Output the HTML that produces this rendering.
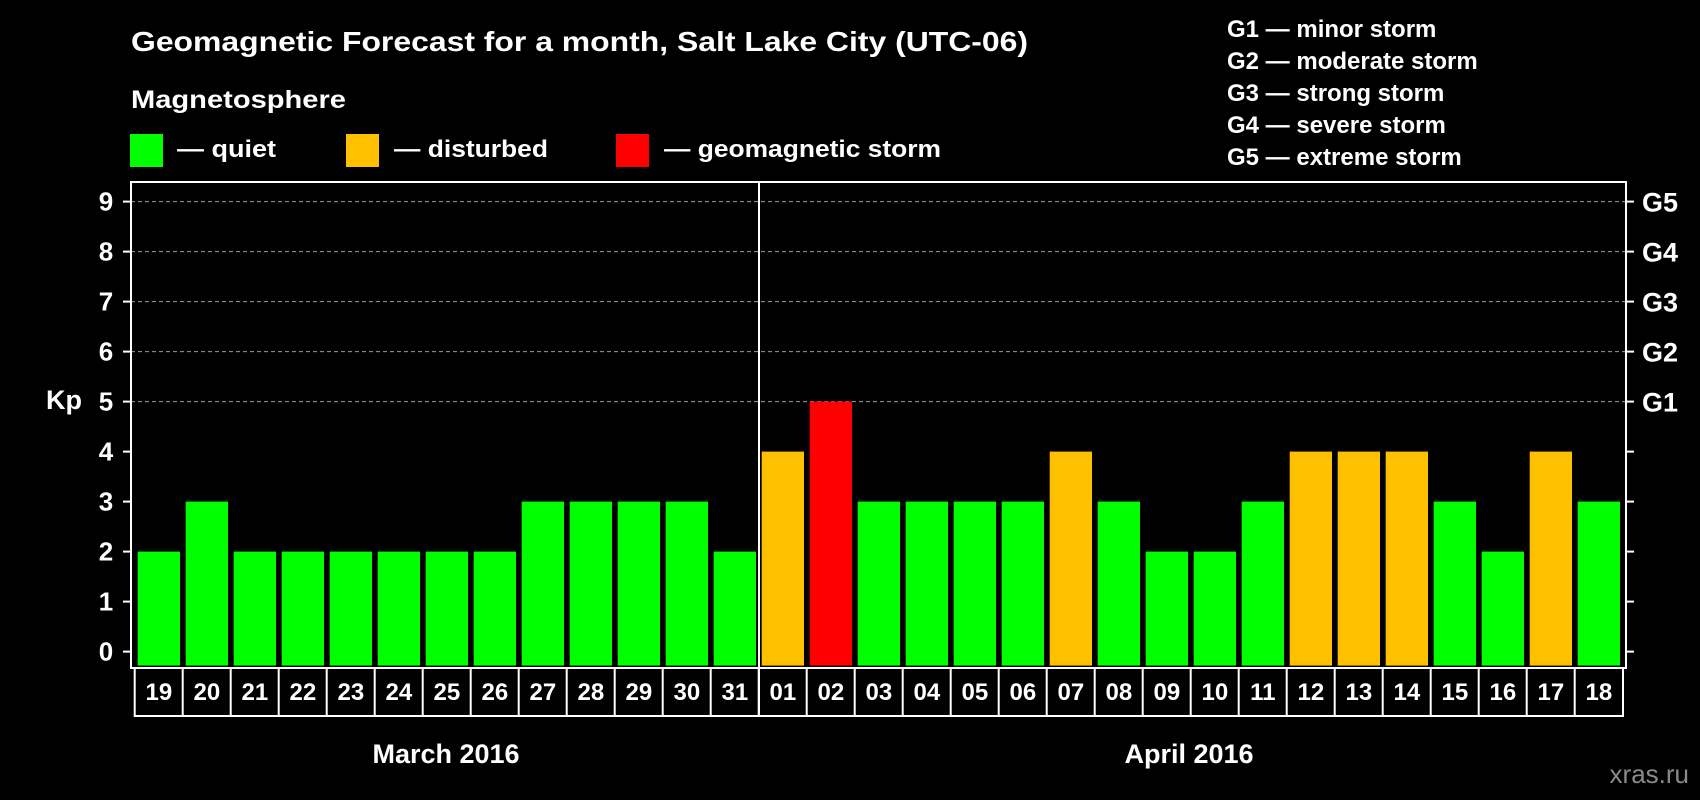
<!DOCTYPE html>
<html><head><meta charset="utf-8"><style>
html,body{margin:0;padding:0;background:#000;}
svg{display:block;font-family:"Liberation Sans",sans-serif;font-weight:bold;}
</style></head><body>
<svg id="chart" width="1700" height="800" viewBox="0 0 1700 800">
<rect width="1700" height="800" fill="#000"/>
<text x="131" y="51" font-size="28" fill="#fff" textLength="897" lengthAdjust="spacingAndGlyphs">Geomagnetic Forecast for a month, Salt Lake City (UTC-06)</text>
<text x="131" y="108" font-size="25" fill="#fff" textLength="215" lengthAdjust="spacingAndGlyphs">Magnetosphere</text>
<g>
<rect x="130" y="134" width="33" height="33" fill="#00ff00"/>
<text x="177" y="157" font-size="24" fill="#fff" textLength="99" lengthAdjust="spacingAndGlyphs">— quiet</text></g>
<g>
<rect x="346" y="134" width="33" height="33" fill="#ffc000"/>
<text x="394" y="157" font-size="24" fill="#fff" textLength="154" lengthAdjust="spacingAndGlyphs">— disturbed</text></g>
<g>
<rect x="616" y="134" width="33" height="33" fill="#ff0000"/>
<text x="664" y="157" font-size="24" fill="#fff" textLength="277" lengthAdjust="spacingAndGlyphs">— geomagnetic storm</text></g>
<g font-size="24" fill="#fff">
<text x="1227" y="37">G1 — minor storm</text>
<text x="1227" y="69">G2 — moderate storm</text>
<text x="1227" y="101">G3 — strong storm</text>
<text x="1227" y="133">G4 — severe storm</text>
<text x="1227" y="165">G5 — extreme storm</text>
</g>
<text x="64" y="409" font-size="27" fill="#fff" text-anchor="middle">Kp</text>
<g id="grid"></g><g id="bars"></g><g id="axes"></g><g id="xlabels"></g>
<text x="446" y="763" font-size="27" fill="#fff" text-anchor="middle">March 2016</text>
<text x="1189" y="763" font-size="27" fill="#fff" text-anchor="middle">April 2016</text>
<text x="1689" y="783" font-size="26" fill="#8a8a8a" text-anchor="end" font-weight="normal">xras.ru</text>
</svg>
<script>
const days = ["19","20","21","22","23","24","25","26","27","28","29","30","31","01","02","03","04","05","06","07","08","09","10","11","12","13","14","15","16","17","18"];
const kpValues = [2,3,2,2,2,2,2,2,3,3,3,3,2,4,5,3,3,3,3,4,3,2,2,3,4,4,4,3,2,4,3];
const yTicks = [0,1,2,3,4,5,6,7,8,9];
const gLabels = ["","","","","","G1","G2","G3","G4","G5"];
const NS="http://www.w3.org/2000/svg";
const L=131,R=1626,T=182,B=668,y0=651.6,unit=50.0,x0=137.7,pitch=48.0,bw=42.3;
const y=v=>y0-v*unit;
const xs=i=>x0+i*pitch;
function mk(tag,attrs,parent){const e=document.createElementNS(NS,tag);for(const k in attrs)e.setAttribute(k,attrs[k]);document.getElementById(parent).appendChild(e);return e;}
yTicks.forEach((t,i)=>{
 if(t>=5){const g=mk('line',{x1:L,x2:R,y1:y(t),y2:y(t),stroke:'#9a9a9a','stroke-width':1,'stroke-dasharray':'4,3'},'grid');
 
 }
 const lt=mk('line',{x1:L-8,x2:L,y1:y(t),y2:y(t),stroke:'#fff','stroke-width':2},'axes');
 
 
 const rt=mk('line',{x1:R,x2:R+8,y1:y(t),y2:y(t),stroke:'#fff','stroke-width':2},'axes');
 
 
 const tx=mk('text',{x:106,y:y(t)+9,'font-size':26,fill:'#fff','text-anchor':'middle'},'axes');
 tx.textContent=t;
 
 
 if(gLabels[i]){const g=mk('text',{x:1642,y:y(t)+10,'font-size':27,fill:'#fff'},'axes');
 g.textContent=gLabels[i];
 
 }
});
kpValues.forEach((v,i)=>{
 const c=v>=5?'#ff0000':(v>=4?'#ffc000':'#00ff00');
 const b=mk('rect',{x:xs(i),y:y(v),width:bw,height:y0-y(v)+14,fill:c},'bars');
 
 
});
const fr=mk('rect',{x:L,y:T,width:R-L,height:B-T,fill:'none',stroke:'#fff','stroke-width':2},'axes');


const dv=mk('line',{x1:759,x2:759,y1:T,y2:716,stroke:'#fff','stroke-width':2},'axes');


const xb=mk('rect',{x:xs(0)-3,y:B,width:xs(days.length-1)+bw+3-(xs(0)-3),height:48,fill:'none',stroke:'#fff','stroke-width':2},'xlabels');


days.forEach((d,i)=>{
 if(i>0){const s=mk('line',{x1:xs(i)-3,x2:xs(i)-3,y1:B,y2:716,stroke:'#fff','stroke-width':2},'xlabels');
 
 }
 const t=mk('text',{x:xs(i)+bw/2,y:700,'font-size':24,fill:'#fff','text-anchor':'middle'},'xlabels');
 t.textContent=d;
 
 
});
</script>
</body></html>
